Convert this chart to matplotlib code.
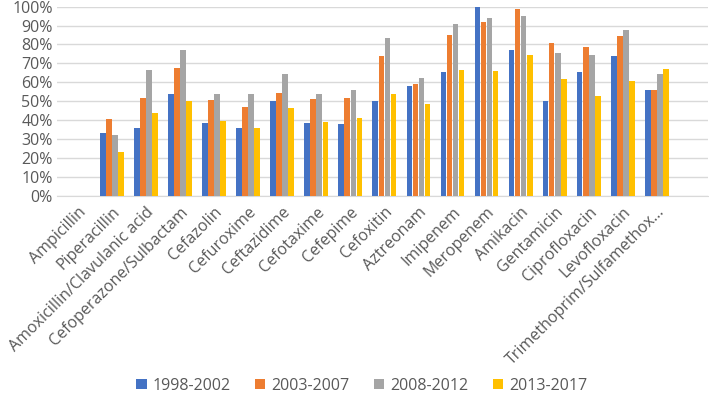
import matplotlib.pyplot as plt
import numpy as np
from matplotlib.ticker import PercentFormatter

plt.rcParams['font.family'] = ['Open Sans', 'DejaVu Sans']

#%% data
drugs = ["Ampicillin", "Piperacillin", "Amoxicillin/Clavulanic acid",
         "Cefoperazone/Sulbactam", "Cefazolin", "Cefuroxime", "Ceftazidime",
         "Cefotaxime", "Cefepime", "Cefoxitin", "Aztreonam", "Imipenem",
         "Meropenem", "Amikacin", "Gentamicin", "Ciprofloxacin",
         "Levofloxacin", "Trimethoprim/Sulfamethox..."]
periods = ["1998-2002", "2003-2007", "2008-2012", "2013-2017"]

p1998 = [0, 33.3, 36.0, 54.0, 38.5, 36.0, 50.1, 38.5, 38.1, 50.1, 58.2, 65.4,
         100.0, 76.9, 50.1, 65.4, 73.9, 55.9]
p2003 = [0, 40.4, 51.9, 67.6, 50.6, 46.8, 54.3, 51.2, 51.9, 74.1, 58.9, 85.0,
         91.9, 98.8, 80.8, 78.5, 84.7, 55.8]
p2008 = [0, 32.1, 66.3, 77.1, 54.0, 53.7, 64.2, 54.0, 55.9, 83.3, 62.3, 90.8,
         93.9, 94.9, 75.5, 74.6, 87.8, 64.2]
p2013 = [0, 23.0, 43.9, 50.3, 39.4, 36.0, 46.6, 39.0, 41.1, 54.0, 48.5, 66.5,
         66.1, 74.4, 61.7, 52.9, 60.7, 67.0]

colors = ["#4472C4", "#ED7D31", "#A5A5A5", "#FFC000"]
txt = "#595959"

#%% plot
fig = plt.figure(figsize=(7.09, 4.08), dpi=100)
ax = fig.add_axes([57 / 709, 1 - 195.7 / 408, 651 / 709, 189 / 408])

x = np.arange(len(drugs))
w = 0.165
step = 0.178
for i, (vals, c, lab) in enumerate(zip([p1998, p2003, p2008, p2013], colors, periods)):
    ax.bar(x + (i - 1.5) * step, vals, w, color=c, label=lab, zorder=3)

ax.set_xlim(-0.61, 18.5)
ax.set_ylim(0, 100)
ax.set_yticks(np.arange(0, 101, 10))
ax.yaxis.set_major_formatter(PercentFormatter(decimals=0))
ax.grid(axis='y', color='#D9D9D9', linewidth=1, zorder=0)
for s in ['top', 'right', 'left']:
    ax.spines[s].set_visible(False)
ax.spines['bottom'].set_color('#D9D9D9')
ax.tick_params(length=0, colors=txt, labelsize=11.5)
ax.set_xticks(x)
ax.set_xticklabels(drugs, rotation=45, ha='right', rotation_mode='anchor')
ax.tick_params(axis='x', pad=6)
ax.tick_params(axis='y', pad=3)

fig.legend(loc='lower center', ncol=4, frameon=False, fontsize=11.5,
           bbox_to_anchor=(0.51, 0.0), handlelength=0.65, handleheight=0.65,
           handletextpad=0.35, columnspacing=1.55, labelcolor=txt)

fig.savefig("out.png", dpi=100)
